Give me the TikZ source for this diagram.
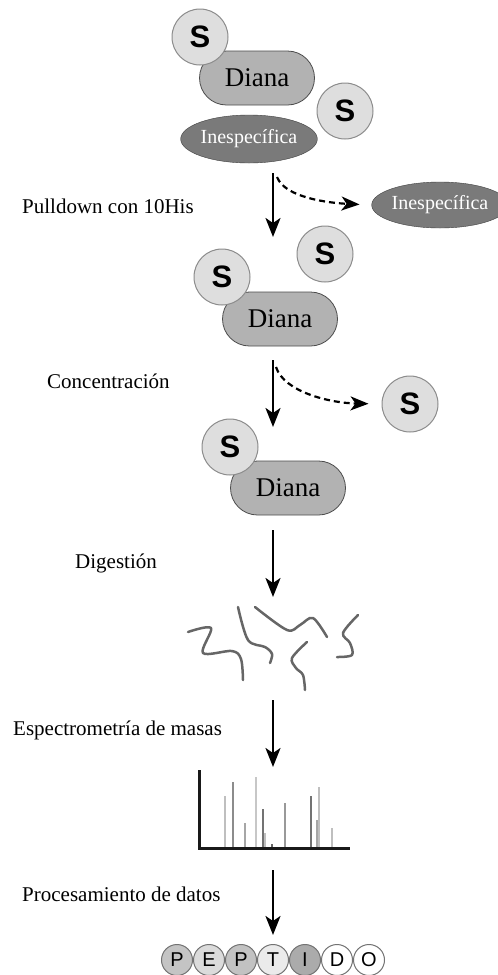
\documentclass[tikz,border=0pt]{standalone}
\usepackage{fontspec}
\setmainfont{Liberation Serif}
\newfontfamily\sansf{Liberation Sans}
\usetikzlibrary{arrows.meta,shapes.geometric}
\begin{document}
\begin{tikzpicture}[x=1pt,y=-1pt,
  pill/.style={draw=black!70, fill=black!30, rounded corners=27pt, minimum width=115pt, minimum height=54pt, line width=0.8pt, inner sep=0pt, font=\fontsize{27}{30}\selectfont},
  sball/.style={circle, draw=black!45, fill=black!13, line width=1pt, minimum size=56pt, inner sep=0pt, font=\sansf\bfseries\fontsize{31}{31}\selectfont},
  unspec/.style={ellipse, draw=black!75, fill=black!52, text=white, minimum width=128pt, minimum height=48pt, inner sep=0pt, font=\fontsize{20}{22}\selectfont},
  lbl/.style={anchor=base west, inner sep=0pt, font=\fontsize{21}{24}\selectfont},
  flow/.style={line width=2.6pt, -{Stealth[length=19pt,width=15pt,inset=5pt]}},
  side/.style={line width=2.2pt, dash pattern=on 6pt off 4pt, -{Stealth[length=18pt,width=14pt,inset=5pt]}},
  frag/.style={draw=black!60, line width=2.5pt, line cap=round, line join=round},
  peak/.style={line width=1.6pt},
  aa/.style={circle, draw=black!55, line width=1pt, minimum size=31pt, inner sep=0pt, font=\sansf\fontsize{20}{20}\selectfont}
]
\useasboundingbox (0,0) rectangle (498,975);

% ---- group 1
\node[pill] (d1) at (257,78) {Diana};
\node[unspec] (u1) at (249,139) {Inespecífica};
\node[sball] (s1) at (200,37) {S};
\node[sball] (s2) at (345,111) {S};

\coordinate (a1s) at (273,173);
\coordinate (a1e) at (273,237);
\draw[flow] (a1s) -- (a1e);
\node[lbl] (l1) at (22,213) {Pulldown con 10His};
\node[unspec, minimum width=114pt, minimum height=46pt] (u2) at (440,205) {Inespecífica};
\coordinate (b1s) at (277,177);
\draw[side, shorten >=12pt] (b1s) .. controls (285,198) and (330,203) .. (u2.west);

% ---- group 2
\node[pill] (d2) at (280,319) {Diana};
\node[sball] (s3) at (222,277) {S};
\node[sball] (s4) at (325,254) {S};

\coordinate (a2s) at (273,360);
\coordinate (a2e) at (273,427);
\draw[flow] (a2s) -- (a2e);
\node[lbl] (l2) at (47,388) {Concentración};
\node[sball] (s5) at (410,404) {S};
\coordinate (b2s) at (276,367);
\draw[side, shorten >=13pt] (b2s) .. controls (284,392) and (330,403) .. (s5.west);

% ---- group 3
\node[pill] (d3) at (288,488) {Diana};
\node[sball] (s6) at (230,447) {S};

\coordinate (a3s) at (273,530);
\coordinate (a3e) at (273,597);
\draw[flow] (a3s) -- (a3e);
\node[lbl] (l3) at (75,568) {Digestión};

% ---- fragments
\draw[frag] plot[smooth, tension=0.55] coordinates {(188,632) (211,628) (203,653) (232,651) (241,659) (243,680)};
\draw[frag] plot[smooth, tension=0.55] coordinates {(238,607) (248,640) (265,647) (272,654) (270,663)};
\draw[frag] plot[smooth, tension=0.55] coordinates {(255,607) (287,630) (300,625) (313,618) (327,637)};
\draw[frag] plot[smooth, tension=0.55] coordinates {(307,642) (292,658) (296,668) (303,675) (305,690)};
\draw[frag] plot[smooth, tension=0.55] coordinates {(358,615) (343,633) (350,643) (352,655) (337,657)};

\coordinate (a4s) at (273,700);
\coordinate (a4e) at (273,767);
\draw[flow] (a4s) -- (a4e);
\node[lbl] (l4) at (13,735) {Espectrometría de masas};

% ---- spectrum
\draw[peak, black!25] (225,847) -- (225,796);
\draw[peak, black!45] (233,847) -- (233,782);
\draw[peak, black!35] (245,847) -- (245,823);
\draw[peak, black!22] (256,847) -- (256,777);
\draw[peak, black!55] (263,847) -- (263,809);
\draw[peak, black!25] (265,847) -- (265,833);
\draw[peak, black!60] (272,847) -- (272,844);
\draw[peak, black!40] (285,847) -- (285,803);
\draw[peak, black!55] (311,847) -- (311,796);
\draw[peak, black!35] (317,847) -- (317,820);
\draw[peak, black!25] (319,847) -- (319,787);
\draw[peak, black!25] (332,847) -- (332,828);
\draw[line width=3pt, black!90] (199,770) -- (199,848) -- (350,848);

\coordinate (a5s) at (273,870);
\coordinate (a5e) at (273,935);
\draw[flow] (a5s) -- (a5e);
\node[lbl] (l5) at (22,901) {Procesamiento de datos};

% ---- peptide
\node[aa, fill=black!23] (p1) at (177,960) {P};
\node[aa, fill=black!14] (p2) at (209,960) {E};
\node[aa, fill=black!24] (p3) at (241,960) {P};
\node[aa, fill=black!8]  (p4) at (273,960) {T};
\node[aa, fill=black!33] (p5) at (305,960) {I};
\node[aa, fill=white]    (p6) at (337,960) {D};
\node[aa, fill=white]    (p7) at (369,960) {O};
\end{tikzpicture}
\end{document}
